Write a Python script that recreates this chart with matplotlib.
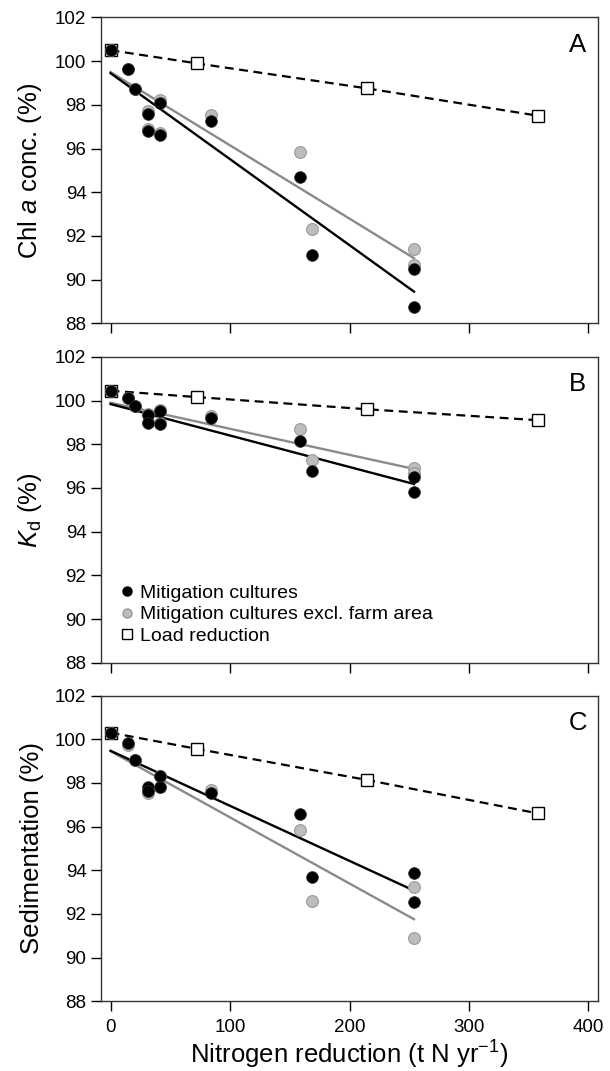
import matplotlib
matplotlib.use('Agg')
import matplotlib.pyplot as plt
from matplotlib.lines import Line2D
import numpy as np

plt.rcParams['font.family'] = ['Liberation Sans', 'DejaVu Sans']
plt.rcParams['mathtext.fontset'] = 'custom'
plt.rcParams['mathtext.rm'] = 'Liberation Sans'
plt.rcParams['mathtext.it'] = 'Liberation Sans:italic'
plt.rcParams['font.size'] = 13

# nitrogen reduction (t N / yr) for the mitigation culture scenarios
x_mc = [0, 15, 20.5, 31, 31, 41.5, 41.5, 84, 158.5, 169, 254, 254]
# load reduction scenarios
x_load = [0, 72, 215, 358]

# Panel A - Chl a
chl_mc = [100.5, 99.65, 98.72, 97.6, 96.82, 98.08, 96.61, 97.27, 94.70, 91.13, 90.47, 88.76]
chl_excl = [100.5, 99.65, 98.72, 97.7, 96.9, 98.23, 96.7, 97.54, 95.85, 92.31, 91.39, 90.67]
chl_load = [100.5, 99.9, 98.75, 97.5]

# Panel B - Kd
kd_mc = [100.44, 100.13, 99.75, 99.34, 98.98, 99.51, 98.92, 99.19, 98.16, 96.79, 96.48, 95.83]
kd_excl = [100.44, 100.13, 99.75, 99.38, 99.02, 99.55, 98.96, 99.3, 98.69, 97.29, 96.91, 96.7]
kd_load = [100.45, 100.16, 99.6, 99.1]

# Panel C - sedimentation
sed_mc = [100.29, 99.83, 99.04, 97.79, 97.65, 98.32, 97.82, 97.52, 96.57, 93.71, 93.86, 92.53]
sed_excl = [100.29, 99.73, 99.04, 97.52, 97.62, 98.3, 97.8, 97.67, 95.83, 92.59, 93.25, 90.89]
sed_load = [100.3, 99.56, 98.13, 96.6]

# regression lines (start/end values at fit_x)
fit_x = [0, 254]
chl_fit_mc = [99.45, 89.45]
chl_fit_excl = [99.5, 90.98]
kd_fit_mc = [99.84, 96.18]
kd_fit_excl = [99.90, 96.87]
sed_fit_mc = [99.47, 93.07]
sed_fit_excl = [99.45, 91.76]

ylabels = ['Chl $a$ conc. (%)', '$K_\\mathrm{d}$ (%)', 'Sedimentation (%)']
letters = ['A', 'B', 'C']

panels = [
    (chl_mc, chl_excl, chl_load, chl_fit_mc, chl_fit_excl),
    (kd_mc, kd_excl, kd_load, kd_fit_mc, kd_fit_excl),
    (sed_mc, sed_excl, sed_load, sed_fit_mc, sed_fit_excl),
]

fig = plt.figure(figsize=(6.1, 10.71), dpi=100)
left, width = 0.1656, 0.8148
bottoms = [0.6981, 0.3812, 0.0650]
height = 0.2856

gray_line = '#8a8a8a'
gray_face = '#bdbdbd'
gray_edge = '#9a9a9a'

for i, (mc, excl, load, fmc, fex) in enumerate(panels):
    ax = fig.add_axes([left, bottoms[i], width, height])
    ax.plot(x_load, load, color='black', lw=1.6, dashes=(4, 2.5), zorder=2)
    ax.plot(fit_x, fex, color=gray_line, lw=1.7, zorder=2)
    ax.plot(fit_x, fmc, color='black', lw=1.7, zorder=2)
    ax.plot(x_load, load, ls='none', marker='s', ms=8, mfc='white', mec='black', mew=1.0, zorder=3)
    ax.plot(x_mc, excl, ls='none', marker='o', ms=8.5, mfc=gray_face, mec=gray_edge, mew=0.8, zorder=4)
    ax.plot(x_mc, mc, ls='none', marker='o', ms=8.5, mfc='black', mec='#333333', mew=0.5, zorder=5)

    ax.set_xlim(-8, 408)
    ax.set_ylim(88, 102)
    ax.set_yticks(np.arange(88, 103, 2))
    ax.set_xticks([0, 100, 200, 300, 400])
    ax.tick_params(direction='out', length=7, width=1, labelsize=13.5)
    ax.tick_params(axis='x', pad=5.5)
    for s in ax.spines.values():
        s.set_linewidth(1.0)
        s.set_color('#333333')
    if i < 2:
        ax.set_xticklabels([])
    else:
        ax.set_xlabel('Nitrogen reduction (t N yr$^{-1}$)', fontsize=18.5, labelpad=2)
    ax.set_ylabel(ylabels[i], fontsize=18.5, labelpad=8)
    ax.text(0.959, 0.95, letters[i], transform=ax.transAxes, ha='center', va='top', fontsize=18.5)

    if i == 1:
        handles = [
            Line2D([], [], ls='none', marker='o', ms=6.5, mfc='black', mec='black'),
            Line2D([], [], ls='none', marker='o', ms=6.5, mfc=gray_face, mec=gray_edge),
            Line2D([], [], ls='none', marker='s', ms=7, mfc='white', mec='black'),
        ]
        ax.legend(handles, ['Mitigation cultures', 'Mitigation cultures excl. farm area', 'Load reduction'],
                  loc='lower left', bbox_to_anchor=(0.0127, 0.014), frameon=False, fontsize=14,
                  handlelength=0.6, handletextpad=0.4, labelspacing=0.2, borderaxespad=0.3)

fig.savefig('out.png', dpi=100)
